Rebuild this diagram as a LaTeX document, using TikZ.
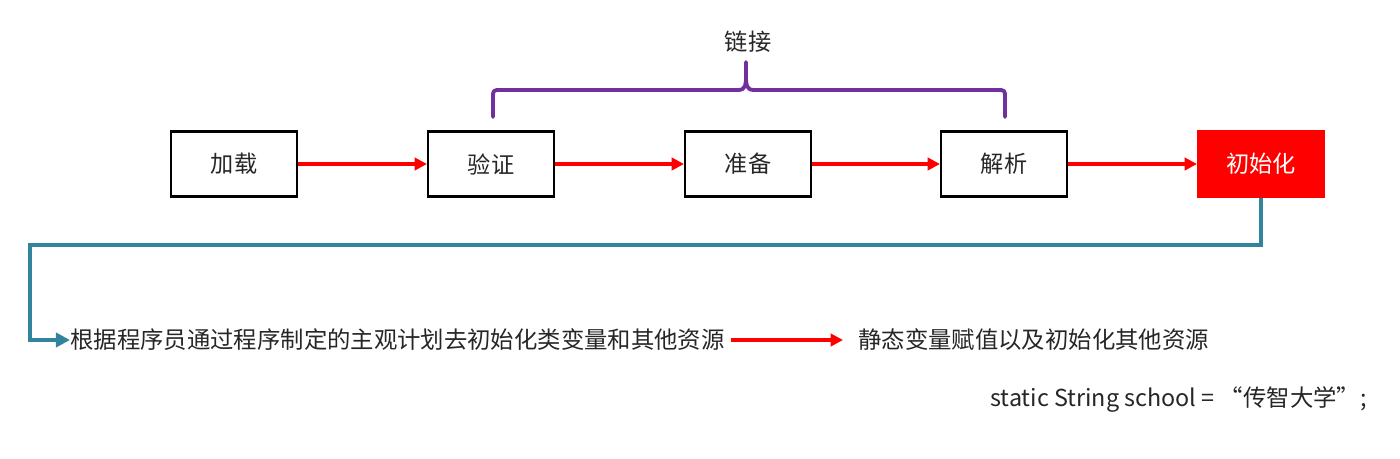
\documentclass[tikz,border=0pt]{standalone}
\usepackage{fontspec}
\setmainfont{Noto Sans CJK SC}
\usetikzlibrary{arrows.meta}
\definecolor{tealc}{HTML}{31849B}
\definecolor{purp}{HTML}{7030A0}
\definecolor{txt}{HTML}{262626}
\begin{document}
\begin{tikzpicture}[x=0.02cm,y=-0.02cm,
  box/.style={draw=black,line width=1.2pt,minimum width=2.52cm,minimum height=1.3cm,inner sep=0pt,font=\fontsize{13.2pt}{15pt}\selectfont,text=txt},
  redbox/.style={box,draw=red,fill=red,text=white},
  redarrow/.style={draw=red,line width=1.8pt,-{Triangle[length=7pt,width=7pt]}},
  lbl/.style={inner sep=0pt,anchor=west,font=\fontsize{13.3pt}{15pt}\selectfont,text=txt}]
\useasboundingbox (0,0) rectangle (1400,458);
\node[box] (load) at (234,164) {加载};
\node[box] (ver) at (491,164) {验证};
\node[box] (prep) at (748,164) {准备};
\node[box] (res) at (1004,164) {解析};
\node[redbox] (init) at (1261,164) {初始化};
\draw[redarrow] (load) -- (ver);
\draw[redarrow] (ver) -- (prep);
\draw[redarrow] (prep) -- (res);
\draw[redarrow] (res) -- (init);
% brace
\coordinate (bl) at (493,117);
\coordinate (br) at (1005,117);
\coordinate (bt) at (746,62);
\draw[purp,line width=2.2pt,line cap=round,line join=round]
  (bl) -- (493,98) .. controls (493,90) .. (501,90) -- (738,90)
  .. controls (746,90) and (746,84) .. (746,76) -- (bt)
  (746,76) .. controls (746,84) and (746,90) .. (754,90) -- (997,90)
  .. controls (1005,90) .. (1005,98) -- (br);
\node[inner sep=0pt,font=\fontsize{13.2pt}{15pt}\selectfont,text=txt] (link) at (748,42) {链接};
% bottom
\node[lbl] (t1) at (70,340) {根据程序员通过程序制定的主观计划去初始化类变量和其他资源};
\node[lbl] (t2) at (858,340) {静态变量赋值以及初始化其他资源};
\node[lbl] (t3) at (990,399) {static String school = “传智大学”;};
\coordinate (c1) at (1261,245);
\coordinate (c2) at (30,245);
\coordinate (c3) at (30,340);
\draw[tealc,line width=2.4pt,-{Triangle[length=8pt,width=8pt]}] (init.south) -- (c1) -- (c2) -- (c3) -- (t1.west);
\coordinate (r1) at (731,340);
\coordinate (r2) at (843,340);
\draw[redarrow] (r1) -- (r2);
\end{tikzpicture}
\end{document}
